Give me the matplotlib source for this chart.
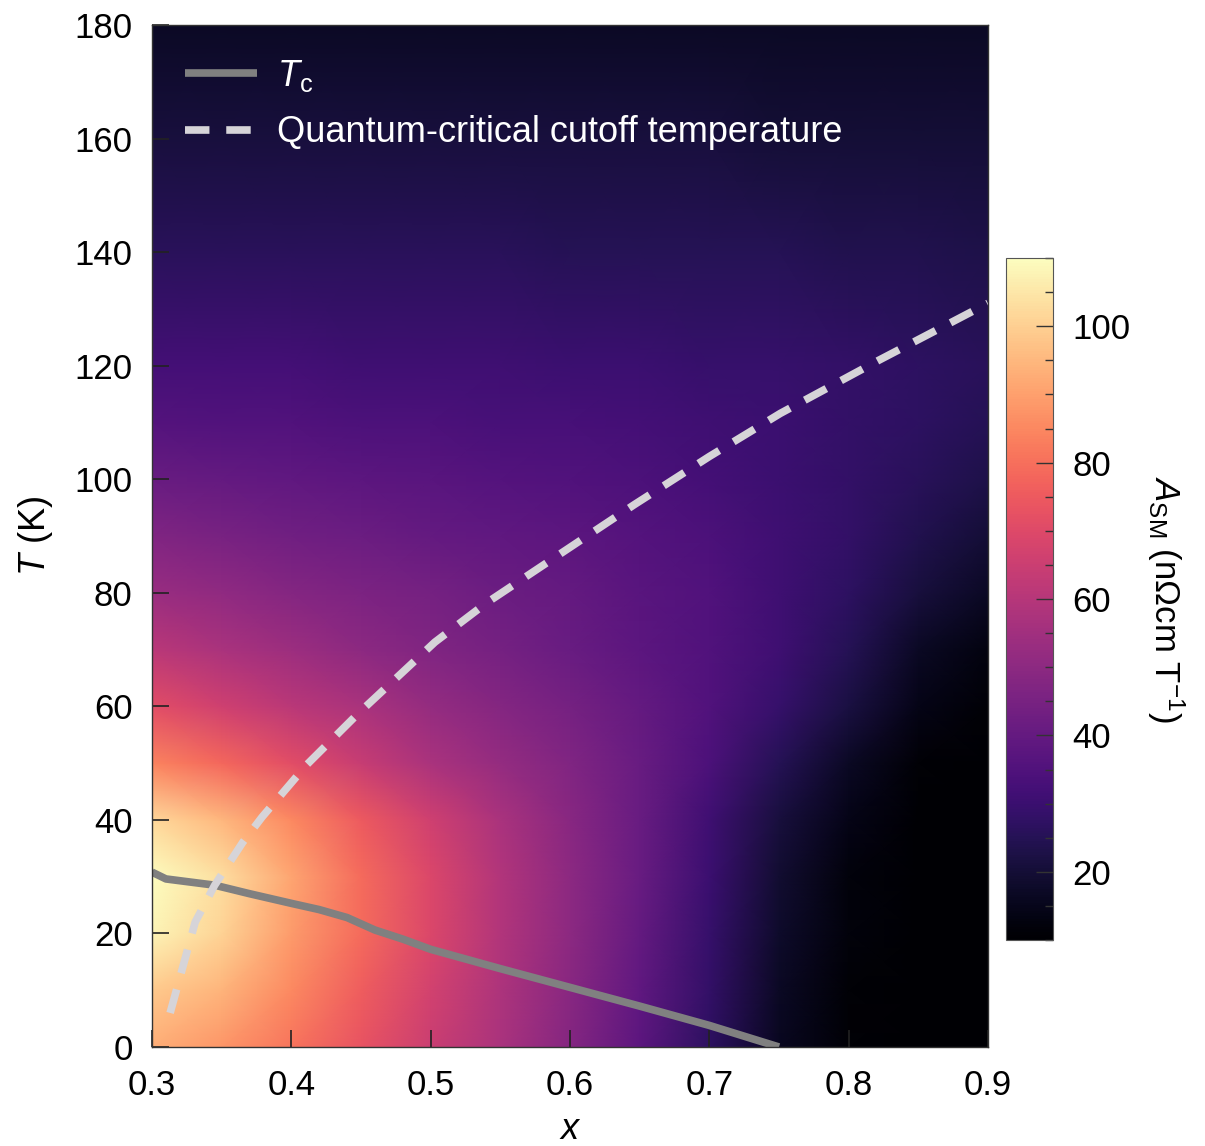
import numpy as np
import matplotlib
matplotlib.use("Agg")
import matplotlib.pyplot as plt
from matplotlib.ticker import MultipleLocator

plt.rcParams['font.family'] = ['Liberation Sans', 'DejaVu Sans']
plt.rcParams['mathtext.fontset'] = 'custom'
plt.rcParams['mathtext.rm'] = 'Liberation Sans'
plt.rcParams['mathtext.it'] = 'Liberation Sans:italic'

# ---- data ----
x_grid = [0.30, 0.35, 0.40, 0.45, 0.50, 0.55, 0.60, 0.65, 0.70, 0.75, 0.80, 0.85, 0.90]
T_grid = [0, 10, 20, 30, 40, 50, 60, 70, 80, 90, 100, 110, 120, 140, 160, 180]
A_SM = [
    [93, 88, 81, 73, 65, 57, 48, 38, 27, 16, 11, 10, 10],
    [99, 94, 85, 76, 67, 58, 49, 39, 28, 17, 11, 10, 10],
    [108, 101, 89, 79, 69, 59, 50, 40, 29, 18, 12, 10, 10],
    [110, 103, 91, 79, 69, 59, 50, 41, 30, 19, 12, 10, 10],
    [102, 95, 85, 75, 66, 57, 49, 41, 31, 21, 14, 10, 10],
    [84, 78, 71, 64, 57, 52, 47, 41, 34, 25, 17, 11, 10],
    [71, 66, 61, 57, 52, 48, 44, 40, 35, 29, 22, 14, 11],
    [61, 57, 54, 50, 47, 44, 41, 38, 35, 31, 25, 17, 13],
    [53, 51, 48, 46, 44, 42, 40, 37, 35, 31, 27, 21, 17],
    [47, 45, 43, 42, 40, 39, 38, 36, 34, 31, 28, 24, 20],
    [41, 40, 39, 38, 37, 36, 35, 34, 32, 30, 28, 26, 23],
    [36, 35, 35, 34, 34, 33, 33, 32, 31, 30, 28, 27, 25],
    [32, 32, 32, 31, 31, 31, 30, 30, 29, 29, 28, 27, 26],
    [26, 26, 26, 26, 26, 26, 25, 25, 25, 25, 24, 24, 23],
    [21, 21, 21, 21, 21, 21, 21, 21, 21, 20, 20, 20, 20],
    [17, 17, 17, 17, 17, 17, 17, 17, 17, 17, 17, 17, 17],
]

tc_x = [0.300, 0.310, 0.345, 0.370, 0.400, 0.420, 0.440, 0.460, 0.480, 0.500, 0.550, 0.600, 0.650, 0.700, 0.750]
tc_T = [30.8, 29.6, 28.5, 27.0, 25.3, 24.2, 22.8, 20.6, 19.0, 17.2, 13.8, 10.5, 7.2, 3.8, 0.0]

qc_x = [0.313, 0.331, 0.345, 0.365, 0.379, 0.411, 0.447, 0.503, 0.540, 0.600, 0.646, 0.700, 0.751, 0.822, 0.900]
qc_T = [6.0, 22.0, 28.5, 36.0, 40.5, 49.7, 58.5, 71.3, 78.2, 88.0, 95.5, 104.0, 111.6, 121.0, 131.0]

x_ticks = [0.3, 0.4, 0.5, 0.6, 0.7, 0.8, 0.9]
T_ticks = [0, 20, 40, 60, 80, 100, 120, 140, 160, 180]
cb_ticks = [20, 40, 60, 80, 100]

# ---- figure ----
W, H = 1205, 1146
fig = plt.figure(figsize=(W / 100, H / 100), dpi=100)
ax = fig.add_axes([152 / W, 1 - 1047 / H, 836 / W, 1022 / H])
cax = fig.add_axes([1006 / W, 1 - 940 / H, 47 / W, 682 / H])

X, Y = np.meshgrid(np.array(x_grid), np.array(T_grid))
mesh = ax.pcolormesh(X, Y, np.array(A_SM, dtype=float), shading='gouraud',
                     cmap='magma', vmin=10, vmax=110, rasterized=True)

ax.plot(tc_x, tc_T, color='#808080', lw=5.5, solid_capstyle='butt', label=r'$T_{\rm c}$')
ax.plot(qc_x, qc_T, color='#d6d4d8', lw=5.5, dashes=(3.2, 2.2), dash_capstyle='butt',
        label='Quantum-critical cutoff temperature')

ax.set_xlim(0.3, 0.9)
ax.set_ylim(0, 180)
ax.set_xticks(x_ticks)
ax.set_xticklabels([f'{v:.1f}' for v in x_ticks])
ax.set_yticks(T_ticks)
ax.tick_params(direction='in', length=12, width=1.2, labelsize=25,
               color='#222222', top=False, right=False)
ax.tick_params(axis='x', pad=16)
ax.tick_params(axis='y', pad=14)
ax.set_xlabel(r'$x$', fontsize=26, labelpad=7)
ax.set_ylabel(r'$T$ (K)', fontsize=26, labelpad=14)
for s in ax.spines.values():
    s.set_linewidth(1.0)
    s.set_color('#333333')

leg = ax.legend(loc='upper left', bbox_to_anchor=(0.0, 1.0), frameon=False,
                fontsize=26, handlelength=2.0, handletextpad=0.55,
                labelspacing=0.6, borderaxespad=0.5)
for t in leg.get_texts():
    t.set_color('white')

cb = fig.colorbar(mesh, cax=cax, ticks=cb_ticks)
cb.ax.yaxis.set_minor_locator(MultipleLocator(5))
cb.ax.tick_params(which='major', direction='in', length=12, width=1.0, labelsize=25, pad=14, color='#333333')
cb.ax.tick_params(which='minor', direction='in', length=6, width=1.0, color='#333333')
cb.outline.set_linewidth(0.8)
cb.outline.set_edgecolor('#555555')
cb.set_label(r'$A_{\rm SM}$ (nΩcm T$^{-1}$)', rotation=270, fontsize=25, labelpad=40)

fig.savefig('out.png', dpi=100)
